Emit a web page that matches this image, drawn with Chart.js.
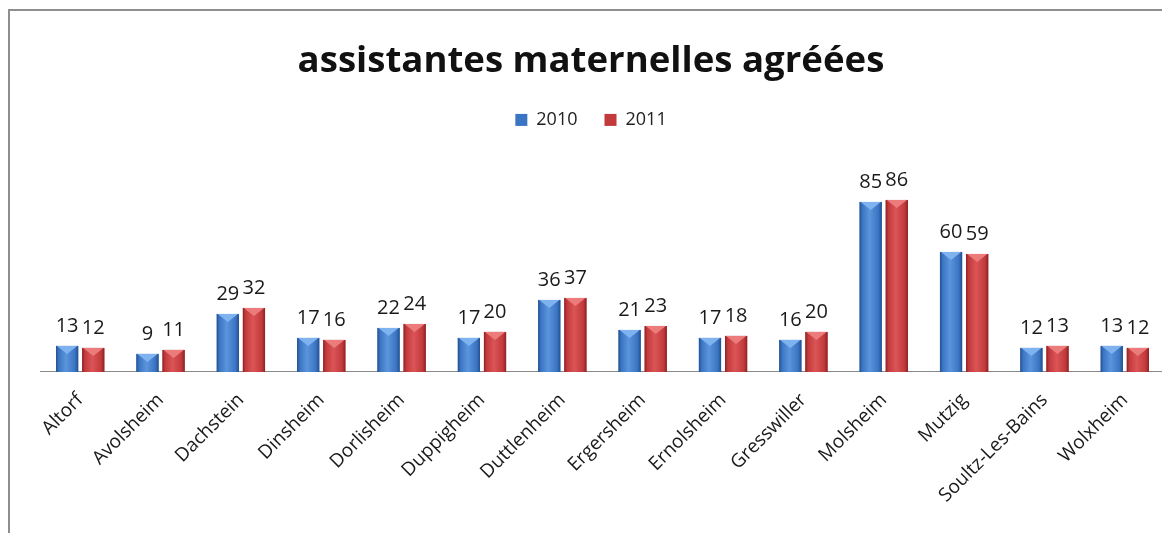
<!DOCTYPE html>
<html>
<head>
<meta charset="utf-8">
<script src="https://cdn.jsdelivr.net/npm/chart.js@4"></script>
<style>
    body { margin: 0; overflow: hidden; background: #fff; }
    #frame {
        position: absolute; left: 8px; top: 9px;
        border-left: 2px solid #8e8e8e; border-top: 2px solid #8e8e8e;
        width: 1162px; height: 524px;
    }
</style>
</head>
<body>
<div id="frame"><canvas id="chart" width="1162" height="524"></canvas></div>
<script>
/*--------------------DATA--------------------*/
let communes = ['Altorf', 'Avolsheim', 'Dachstein', 'Dinsheim', 'Dorlisheim', 'Duppigheim', 'Duttlenheim',
    'Ergersheim', 'Ernolsheim', 'Gresswiller', 'Molsheim', 'Mutzig', 'Soultz-Les-Bains', 'Wolxheim'];
let values2010 = [13, 9, 29, 17, 22, 17, 36, 21, 17, 16, 85, 60, 12, 13];
let values2011 = [12, 11, 32, 16, 24, 20, 37, 23, 18, 20, 86, 59, 13, 12];

let fontFamily = '"Open Sans", "DejaVu Sans", sans-serif';

/*--------------------PLUGINS--------------------*/
// shade every bar like the office 3D look: side gradient + light triangle on top
let barShading = {
    id: 'barShading',
    afterDatasetsDraw(chart) {
        let ctx = chart.ctx;
        let shades = [
            { light: '#5b95dc', mid: '#3b74c2', dark: '#21508f', top: '#7fb3f0' },
            { light: '#dc5556', mid: '#c23a3c', dark: '#8c2225', top: '#ec7c7c' }
        ];
        chart.data.datasets.forEach((ds, i) => {
            let s = shades[i];
            chart.getDatasetMeta(i).data.forEach(bar => {
                let p = bar.getProps(['x', 'y', 'base', 'width'], true);
                let left = p.x - p.width / 2, right = p.x + p.width / 2;
                let g = ctx.createLinearGradient(left, 0, right, 0);
                g.addColorStop(0, s.dark);
                g.addColorStop(0.12, s.mid);
                g.addColorStop(0.45, s.light);
                g.addColorStop(0.85, s.mid);
                g.addColorStop(1, s.dark);
                ctx.save();
                ctx.fillStyle = g;
                ctx.fillRect(left, p.y, p.width, p.base - p.y);
                ctx.fillStyle = s.top;
                ctx.beginPath();
                ctx.moveTo(left + 1, p.y);
                ctx.lineTo(right - 1, p.y);
                ctx.lineTo(p.x, p.y + 8);
                ctx.closePath();
                ctx.fill();
                ctx.restore();
            });
        });
    }
};

let valueLabels = {
    id: 'valueLabels',
    afterDatasetsDraw(chart) {
        let ctx = chart.ctx;
        ctx.save();
        ctx.font = '20px ' + fontFamily;
        ctx.fillStyle = '#1a1a1a';
        ctx.textAlign = 'center';
        ctx.textBaseline = 'alphabetic';
        chart.data.datasets.forEach((ds, i) => {
            chart.getDatasetMeta(i).data.forEach((bar, j) => {
                ctx.fillText(ds.data[j], bar.x, bar.y - 14);
            });
        });
        ctx.restore();
    }
};

/*--------------------CHART--------------------*/
let chart = new Chart(document.getElementById('chart'), {
    type: 'bar',
    data: {
        labels: communes,
        datasets: [
            { label: '2010', data: values2010, backgroundColor: '#3b74c2', categoryPercentage: 0.65, barPercentage: 0.85 },
            { label: '2011', data: values2011, backgroundColor: '#c23a3c', categoryPercentage: 0.65, barPercentage: 0.85 }
        ]
    },
    options: {
        responsive: false,
        animation: false,
        layout: { padding: { left: 7, right: 7, bottom: 19 } },
        plugins: {
            title: {
                display: true,
                text: 'assistantes maternelles agréées',
                color: '#111',
                font: { family: fontFamily, size: 36.6, weight: 'bold' },
                padding: { top: 29, bottom: 0 }
            },
            legend: {
                position: 'top',
                labels: {
                    color: '#222',
                    boxWidth: 12, boxHeight: 12,
                    padding: 27,
                    font: { family: fontFamily, size: 18 }
                }
            },
            tooltip: { enabled: false }
        },
        scales: {
            x: {
                grid: { display: false },
                border: { display: true, color: '#8a8a8a', width: 1 },
                ticks: {
                    color: '#1a1a1a',
                    padding: 9,
                    minRotation: 45, maxRotation: 45,
                    font: { family: fontFamily, size: 19 }
                }
            },
            // hidden axis, only keeps the left gap of the plot
            y: {
                min: 0, max: 116.5,
                grid: { display: false },
                border: { display: false },
                ticks: { display: false },
                afterFit(scale) { scale.width = 23; }
            }
        }
    },
    plugins: [barShading, valueLabels]
});
</script>
</body>
</html>
